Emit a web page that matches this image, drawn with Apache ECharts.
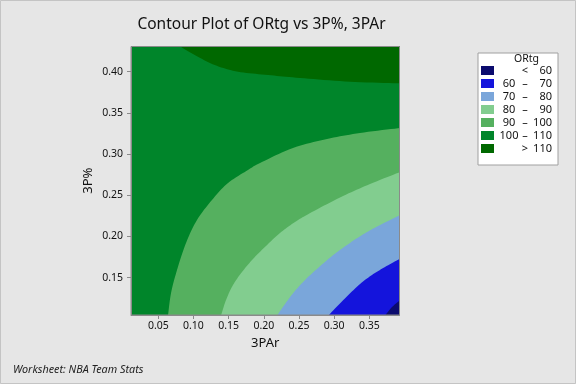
<!DOCTYPE html>
<html>
<head>
<meta charset="utf-8">
<script src="https://cdn.jsdelivr.net/npm/echarts@6/dist/echarts.min.js"></script>
<style>
html,body{margin:0;padding:0;background:#e6e6e6;}
#chart{width:576px;height:384px;}
</style>
</head>
<body>
<div id="chart"></div>
<script>
// ---- axis ranges and ticks ----
const xRange = [0.0112, 0.3929];
const yRange = [0.1047, 0.4306];
const xTicks = [0.05, 0.10, 0.15, 0.20, 0.25, 0.30, 0.35];
const yTicks = [0.15, 0.20, 0.25, 0.30, 0.35, 0.40];

// ---- contour levels (legend order) ----
const levelLow  = [' ', '60', '70', '80', '90', '100', ' '];
const levelSym  = ['<', '–', '–', '–', '–', '–', '>'];
const levelHigh = ['60', '70', '80', '90', '100', '110', '110'];
const levelColors = ['#0b0b6e', '#1414dc', '#7aa6da', '#82cd8f', '#55b05f', '#00852a', '#006800'];

// ---- contour boundaries: [3PAr, 3P%] ----
const boundaryFull = [[0.0, 0.10], [0.0, 0.44], [0.40, 0.44], [0.40, 0.10]];
const boundary110 = [[0.0804, 0.431], [0.1018, 0.4203], [0.1302, 0.4081], [0.1633, 0.4000],
  [0.2060, 0.3960], [0.2515, 0.3924], [0.3226, 0.3879], [0.394, 0.3859]];
const boundary100 = [[0.0638, 0.104], [0.0681, 0.1314], [0.0766, 0.1593], [0.0894, 0.1921],
  [0.1050, 0.2200], [0.1263, 0.2443], [0.1491, 0.2649], [0.1775, 0.2807], [0.1946, 0.2892],
  [0.2415, 0.3074], [0.2899, 0.3183], [0.3368, 0.3256], [0.394, 0.3317]];
const boundary90 = [[0.1391, 0.104], [0.1463, 0.1229], [0.1562, 0.1411], [0.1690, 0.1569],
  [0.1846, 0.1727], [0.2031, 0.1885], [0.2230, 0.2042], [0.2444, 0.2176], [0.2685, 0.2297],
  [0.3126, 0.2491], [0.3510, 0.2637], [0.394, 0.2783]];
const boundary80 = [[0.2188, 0.104], [0.2302, 0.1181], [0.2430, 0.1326], [0.2586, 0.1472],
  [0.2771, 0.1618], [0.2970, 0.1763], [0.3183, 0.1897], [0.3397, 0.2018], [0.3624, 0.2127], [0.394, 0.2261]];
const boundary70 = [[0.2917, 0.104], [0.3130, 0.1229], [0.3368, 0.1423], [0.3538, 0.1533],
  [0.3723, 0.1630], [0.394, 0.1733]];
const boundary60 = [[0.3723, 0.104], [0.3823, 0.1144], [0.394, 0.1229]];
const cornerTopRight = [[0.394, 0.431]];
const cornerBottomRight = [[0.394, 0.104]];

const FONT = '"Noto Sans", "Open Sans", sans-serif';
const TEXT = '#111111';
const AXIS = '#8a8a8a';

const levelNames = levelLow.map((l, i) => (l.trim() ? l + ' ' : '') + levelSym[i] + ' ' + levelHigh[i]);
const levelBoundaries = [boundary60, boundary70, boundary80, boundary90, boundary100, boundaryFull, boundary110];
const levelCorners = [cornerBottomRight, cornerBottomRight, cornerBottomRight, cornerBottomRight, cornerBottomRight, [], cornerTopRight];
const levelSmooth = [true, true, true, true, true, false, true];
const paintOrder = [5, 6, 4, 3, 2, 1, 0];

// Catmull-Rom smoothing of a pixel polyline (rendering only)
function smoothLine(pts, seg) {
  const out = [];
  const n = pts.length;
  for (let i = 0; i < n - 1; i++) {
    const p0 = pts[Math.max(i - 1, 0)], p1 = pts[i], p2 = pts[i + 1], p3 = pts[Math.min(i + 2, n - 1)];
    for (let s = 0; s < seg; s++) {
      const t = s / seg, t2 = t * t, t3 = t2 * t;
      const f = k => 0.5 * ((2 * p1[k]) + (-p0[k] + p2[k]) * t +
        (2 * p0[k] - 5 * p1[k] + 4 * p2[k] - p3[k]) * t2 + (-p0[k] + 3 * p1[k] - 3 * p2[k] + p3[k]) * t3);
      out.push([f(0), f(1)]);
    }
  }
  out.push(pts[n - 1]);
  return out;
}

function makeSeries(i) {
  const boundary = levelBoundaries[i];
  const corners = levelCorners[i];
  return {
    type: 'custom',
    name: levelNames[i],
    coordinateSystem: 'cartesian2d',
    clip: true,
    silent: true,
    animation: false,
    itemStyle: { color: levelColors[i] },
    encode: { x: 0, y: 1 },
    data: boundary,
    renderItem: function (params, api) {
      if (params.dataIndex !== 0) return null;
      let pts = boundary.map(p => api.coord(p));
      if (levelSmooth[i]) pts = smoothLine(pts, 10);
      pts = pts.concat(corners.map(p => api.coord(p)));
      return { type: 'polygon', shape: { points: pts }, style: { fill: levelColors[i] } };
    }
  };
}

const chart = echarts.init(document.getElementById('chart'), null, { renderer: 'canvas' });
const richBase = { fontFamily: FONT, fontSize: 11, color: TEXT };
chart.setOption({
  backgroundColor: '#e6e6e6',
  animation: false,
  textStyle: { fontFamily: FONT },
  grid: { left: 131, right: 176.5, top: 46.5, bottom: 69, show: true, z: 10,
    backgroundColor: 'transparent', borderColor: AXIS, borderWidth: 1 },
  xAxis: {
    type: 'value', min: xRange[0], max: xRange[1], z: 10,
    name: '3PAr', nameLocation: 'middle', nameGap: 22,
    nameTextStyle: { fontFamily: FONT, fontSize: 13, color: TEXT },
    axisLine: { show: true, lineStyle: { color: AXIS } },
    axisTick: { show: true, length: 4, lineStyle: { color: AXIS }, customValues: xTicks },
    axisLabel: { customValues: xTicks, formatter: v => v.toFixed(2), fontSize: 10.5, color: TEXT, margin: 6, fontFamily: FONT },
    splitLine: { show: false }
  },
  yAxis: {
    type: 'value', min: yRange[0], max: yRange[1], z: 10,
    name: '3P%', nameLocation: 'middle', nameGap: 36, nameRotate: 90,
    nameTextStyle: { fontFamily: FONT, fontSize: 13, color: TEXT },
    axisLine: { show: true, lineStyle: { color: AXIS } },
    axisTick: { show: true, length: 4, lineStyle: { color: AXIS }, customValues: yTicks },
    axisLabel: { customValues: yTicks, formatter: v => v.toFixed(2), fontSize: 10.5, color: TEXT, margin: 8, fontFamily: FONT },
    splitLine: { show: false }
  },
  legend: {
    orient: 'vertical', left: 478, top: 53, padding: [12, 6, 11, 3],
    itemGap: 2, itemWidth: 13, itemHeight: 9, icon: 'rect',
    backgroundColor: '#ffffff', borderColor: '#a0a0a0', borderWidth: 1, borderRadius: 0,
    selectedMode: false,
    data: levelNames,
    formatter: function (name) {
      const i = levelNames.indexOf(name);
      return '{a|' + levelLow[i] + '}{b|' + levelSym[i] + '}{c|' + levelHigh[i] + '}';
    },
    textStyle: {
      fontFamily: FONT, fontSize: 11, color: TEXT,
      rich: {
        a: Object.assign({ width: 20, align: 'right' }, richBase),
        b: Object.assign({ width: 12, align: 'center' }, richBase),
        c: Object.assign({ width: 21, align: 'right' }, richBase)
      }
    }
  },
  graphic: [
    { type: 'rect', z: 100, silent: true, shape: { x: 0.5, y: 0.5, width: 575, height: 383 },
      style: { fill: null, stroke: '#c4c4c4', lineWidth: 1 } },
    { type: 'text', z: 100, x: 261.5, y: 25, silent: true,
      style: { text: 'Contour Plot of ORtg vs 3P%, 3PAr', fontFamily: FONT, fontSize: 15.5, fill: TEXT,
        align: 'center', verticalAlign: 'middle' } },
    { type: 'text', z: 100, x: 526.5, y: 59.5, silent: true,
      style: { text: 'ORtg', fontFamily: FONT, fontSize: 10.5, fill: TEXT, align: 'center', verticalAlign: 'middle' } },
    { type: 'text', z: 100, x: 13, y: 370, silent: true,
      style: { text: 'Worksheet: NBA Team Stats', fontFamily: FONT, fontSize: 10.8, fontStyle: 'italic', fill: '#222',
        align: 'left', verticalAlign: 'middle' } }
  ],
  series: paintOrder.map(makeSeries)
});
</script>
</body>
</html>
